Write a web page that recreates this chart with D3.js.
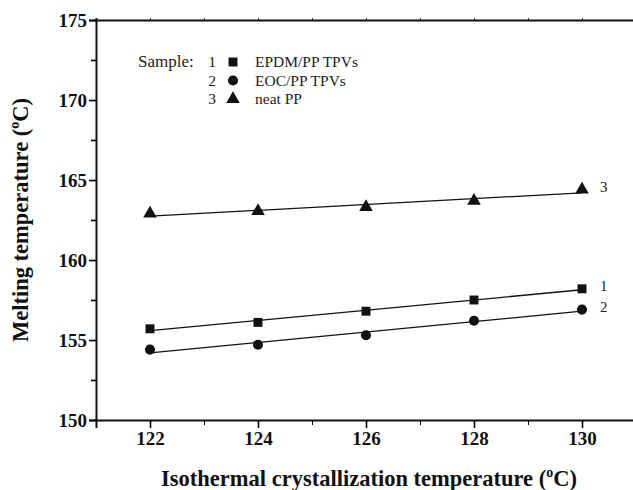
<!DOCTYPE html>
<html>
  <head>
    <script src="https://d3js.org/d3.v7.min.js"></script>
    <style>
      body { margin: 0; background: #fff; }
      text { font-family: "Liberation Serif", "Times New Roman", serif; }
    </style>
  </head>
  <body>
    <svg width="633" height="490"></svg>
    <script>
      // data
      var temps = [122, 124, 126, 128, 130];
      var epdm = [155.7, 156.1, 156.8, 157.5, 158.2];
      var eoc = [154.4, 154.7, 155.3, 156.2, 156.9];
      var neatPP = [162.9, 163.05, 163.3, 163.7, 164.4];
      var seriesNames = ["EPDM/PP TPVs", "EOC/PP TPVs", "neat PP"];
      var seriesIds = ["1", "2", "3"];
      var yTicks = [150, 155, 160, 165, 170, 175];
      var xTicks = [122, 124, 126, 128, 130];

      var series = [
        { id: seriesIds[0], name: seriesNames[0], values: epdm, symbol: d3.symbolSquare, size: 80 },
        { id: seriesIds[1], name: seriesNames[1], values: eoc, symbol: d3.symbolCircle, size: 80 },
        { id: seriesIds[2], name: seriesNames[2], values: neatPP, symbol: d3.symbolTriangle, size: 80 }
      ];

      var svg = d3.select("svg");
      var x = d3.scaleLinear().domain([121, 131]).range([96, 636]);
      var y = d3.scaleLinear().domain([150, 175]).range([420, 20]);

      // least squares fit for the straight lines
      function fit(xs, ys) {
        var mx = d3.mean(xs), my = d3.mean(ys);
        var num = d3.sum(xs, function (v, i) { return (v - mx) * (ys[i] - my); });
        var den = d3.sum(xs, function (v) { return (v - mx) * (v - mx); });
        var b = num / den;
        return function (v) { return my + b * (v - mx); };
      }

      // top frame line with small ticks
      svg.append("g")
        .attr("transform", "translate(0," + y(175) + ")")
        .call(d3.axisTop(x).tickValues(d3.range(121, 132)).tickSize(2).tickFormat(""))
        .call(function (g) {
          g.select(".domain").attr("stroke-width", 2).attr("stroke", "#111");
          g.selectAll("line").attr("stroke", "#333");
        });

      // x axis
      var xAxis = svg.append("g").attr("transform", "translate(0," + y(150) + ")");
      xAxis.call(d3.axisBottom(x).tickValues(d3.range(121, 132, 2)).tickSize(5).tickFormat(""))
        .call(function (g) { g.select(".domain").remove(); });
      xAxis.append("g")
        .call(d3.axisBottom(x).tickValues(xTicks).tickSize(8).tickPadding(4).tickFormat(d3.format("d")))
        .call(function (g) {
          g.select(".domain").attr("stroke-width", 2).attr("stroke", "#111");
          g.selectAll("line").attr("stroke-width", 1.6);
          g.selectAll("text").attr("font-size", 19).attr("font-weight", "bold")
            .attr("font-family", "Liberation Serif").attr("fill", "#111");
        });

      // y axis
      var yAxis = svg.append("g").attr("transform", "translate(" + x(121) + ",0)");
      yAxis.call(d3.axisLeft(y).tickValues(d3.range(152.5, 175, 5)).tickSize(5).tickFormat(""))
        .call(function (g) { g.select(".domain").remove(); g.selectAll("line").attr("stroke-width", 1.6); });
      yAxis.append("g")
        .call(d3.axisLeft(y).tickValues(yTicks).tickSize(7).tickPadding(2).tickFormat(d3.format("d")))
        .call(function (g) {
          g.select(".domain").attr("stroke-width", 2).attr("stroke", "#111");
          g.selectAll("line").attr("stroke-width", 1.6);
          g.selectAll("text").attr("font-size", 19).attr("font-weight", "bold")
            .attr("font-family", "Liberation Serif").attr("fill", "#111");
        });

      // fitted lines, markers, right labels
      series.forEach(function (s) {
        var f = fit(temps, s.values);
        svg.append("path")
          .attr("fill", "none")
          .attr("stroke", "#111")
          .attr("stroke-width", 1.3)
          .attr("d", d3.line()
            .x(function (d) { return x(d); })
            .y(function (d) { return y(f(d)); })([temps[0], temps[temps.length - 1]]));

        svg.selectAll(null)
          .data(s.values)
          .enter()
          .append("path")
          .attr("transform", function (d, i) {
            return "translate(" + x(temps[i]) + "," + y(d) + ")";
          })
          .attr("d", d3.symbol().type(s.symbol).size(s.size))
          .attr("fill", "#111");

        svg.append("text")
          .attr("x", x(130) + 18)
          .attr("y", y(s.values[s.values.length - 1]))
          .attr("dy", "0.15em")
          .attr("font-size", 15)
          .attr("fill", "#222")
          .text(s.id);
      });

      // legend
      var legend = svg.append("g");
      legend.append("text")
        .attr("x", 138).attr("y", 61).attr("dy", "0.35em")
        .attr("font-size", 17).attr("fill", "#222")
        .text("Sample:");
      var rows = legend.selectAll("g.row")
        .data(series)
        .enter()
        .append("g")
        .attr("class", "row")
        .attr("transform", function (d, i) { return "translate(0," + (62 + i * 18.5) + ")"; });
      rows.append("text")
        .attr("x", 212).attr("dy", "0.35em").attr("text-anchor", "middle")
        .attr("font-size", 15.5).attr("fill", "#222")
        .text(function (d) { return d.id; });
      rows.append("path")
        .attr("transform", "translate(233,0)")
        .attr("d", function (d) { return d3.symbol().type(d.symbol).size(d.size)(); })
        .attr("fill", "#111");
      rows.append("text")
        .attr("x", 255).attr("dy", "0.35em")
        .attr("font-size", 15.5).attr("fill", "#222")
        .text(function (d) { return d.name; });

      // axis titles
      var xt = svg.append("text")
        .attr("x", 369).attr("y", 486)
        .attr("text-anchor", "middle")
        .attr("font-size", 22.5).attr("font-weight", "bold").attr("fill", "#111");
      xt.append("tspan").text("Isothermal crystallization temperature (");
      xt.append("tspan").attr("font-size", 14).attr("dy", -9).text("o");
      xt.append("tspan").attr("dy", 9).text("C)");

      var yt = svg.append("text")
        .attr("transform", "translate(28,220) rotate(-90)")
        .attr("text-anchor", "middle")
        .attr("font-size", 22.5).attr("font-weight", "bold").attr("fill", "#111");
      yt.append("tspan").text("Melting temperature (");
      yt.append("tspan").attr("font-size", 14).attr("dy", -9).text("o");
      yt.append("tspan").attr("dy", 9).text("C)");
    </script>
  </body>
</html>
